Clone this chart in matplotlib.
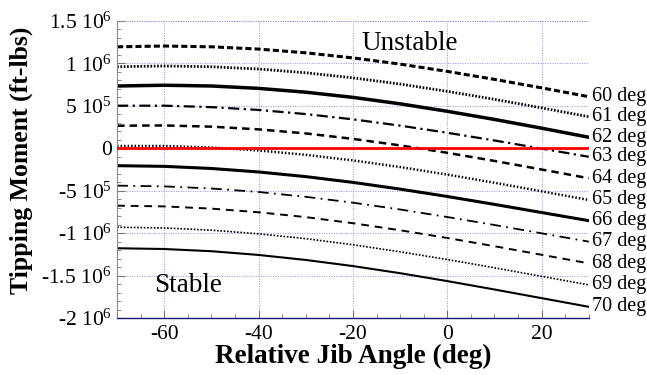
import numpy as np
import matplotlib
matplotlib.use("Agg")
import matplotlib.pyplot as plt
from matplotlib.ticker import MultipleLocator

# relative jib angle (deg)
jib_angle = [-70, -60, -50, -40, -30, -20, -10, 0, 10, 20, 30]

# tipping moment, in units of 1e6 ft-lbs, one list per boom angle
moment_60 = [1.196, 1.205, 1.196, 1.169, 1.125, 1.065, 0.992, 0.906, 0.812, 0.712, 0.608]
moment_61 = [0.961, 0.970, 0.961, 0.934, 0.890, 0.830, 0.757, 0.671, 0.577, 0.476, 0.372]
moment_62 = [0.734, 0.743, 0.734, 0.706, 0.661, 0.600, 0.524, 0.436, 0.340, 0.237, 0.130]
moment_63 = [0.502, 0.502, 0.485, 0.452, 0.403, 0.341, 0.267, 0.183, 0.092, -0.004, -0.100]
moment_64 = [0.266, 0.269, 0.255, 0.223, 0.175, 0.111, 0.034, -0.053, -0.149, -0.250, -0.353]
moment_65 = [0.027, 0.027, 0.009, -0.026, -0.077, -0.143, -0.221, -0.310, -0.406, -0.507, -0.609]
moment_66 = [-0.205, -0.213, -0.238, -0.279, -0.334, -0.402, -0.481, -0.568, -0.661, -0.757, -0.853]
moment_67 = [-0.440, -0.449, -0.474, -0.515, -0.572, -0.641, -0.721, -0.810, -0.904, -1.002, -1.100]
moment_68 = [-0.676, -0.685, -0.711, -0.754, -0.811, -0.883, -0.966, -1.057, -1.154, -1.255, -1.356]
moment_69 = [-0.930, -0.939, -0.965, -1.008, -1.065, -1.137, -1.220, -1.311, -1.408, -1.509, -1.610]
moment_70 = [-1.178, -1.187, -1.213, -1.257, -1.316, -1.388, -1.472, -1.565, -1.664, -1.766, -1.868]

curve_labels = ["60 deg", "61 deg", "62 deg", "63 deg", "64 deg", "65 deg",
                "66 deg", "67 deg", "68 deg", "69 deg", "70 deg"]

x_ticks = [-60, -40, -20, 0, 20]
y_ticks = [1.5e6, 1e6, 5e5, 0, -5e5, -1e6, -1.5e6, -2e6]
y_tick_labels = ["1.5 10$^{6}$", "1 10$^{6}$", "5 10$^{5}$", "0", "-5 10$^{5}$",
                 "-1 10$^{6}$", "-1.5 10$^{6}$", "-2 10$^{6}$"]

plt.rcParams["font.family"] = ["Liberation Serif", "DejaVu Serif"]
plt.rcParams["mathtext.fontset"] = "custom"
plt.rcParams["mathtext.rm"] = "Liberation Serif"
plt.rcParams["mathtext.it"] = "Liberation Serif:italic"
plt.rcParams["mathtext.bf"] = "Liberation Serif:bold"
plt.rcParams["axes.unicode_minus"] = False

curves = [moment_60, moment_61, moment_62, moment_63, moment_64, moment_65,
          moment_66, moment_67, moment_68, moment_69, moment_70]

styles = [
    ((0, (2, 1)), 2.2),
    ((0, (0.6, 0.6)), 2.0),
    ("-", 2.5),
    ((0, (5, 2, 1, 2)), 1.6),
    ((0, (3, 2)), 1.8),
    ((0, (0.6, 0.8)), 1.8),
    ("-", 2.2),
    ((0, (6, 3, 1, 3)), 1.3),
    ((0, (4, 3)), 1.4),
    ((0, (1, 1)), 1.2),
    ("-", 1.5),
]

fig = plt.figure(figsize=(6.47, 3.75), dpi=100)
ax = fig.add_axes([0.181, 0.152, 0.729, 0.792])

x = np.array(jib_angle)
for values, label, (ls, lw) in zip(curves, curve_labels, styles):
    y = np.array(values) * 1e6
    ax.plot(x, y, color="black", linestyle=ls, linewidth=lw)
    ax.annotate(label, xy=(x[-1], y[-1]), xytext=(2, 0), textcoords="offset points",
                ha="left", va="center", fontsize=14.5, annotation_clip=False)

ax.axhline(0, color="red", linewidth=2, zorder=5)

ax.set_xlim(-70, 30)
ax.set_ylim(-2e6, 1.5e6)
ax.set_xticks(x_ticks)
ax.set_yticks(y_ticks)
ax.set_yticklabels(y_tick_labels)
ax.xaxis.set_minor_locator(MultipleLocator(5))
ax.yaxis.set_minor_locator(MultipleLocator(1e5))

ax.tick_params(which="both", direction="in", colors="#777777", labelcolor="black",
               labelsize=15.5, top=False, right=False)
ax.tick_params(which="major", length=6)
ax.tick_params(which="minor", length=3)
ax.tick_params(axis="y", pad=4)
ax.tick_params(axis="x", pad=5)

ax.grid(True, which="major", color="#8f8fe8", linestyle=(0, (1, 1.5)), linewidth=0.7)
ax.spines["top"].set_visible(False)
ax.spines["right"].set_visible(False)
ax.spines["left"].set_color("#888888")
ax.spines["left"].set_linewidth(0.8)
ax.spines["bottom"].set_color("#1a1a80")
ax.spines["bottom"].set_linewidth(1.0)
# top edge shown as a dotted grid line
ax.axhline(1.5e6, color="#8f8fe8", linestyle=(0, (1, 1.5)), linewidth=0.7, clip_on=False)

ax.text(-18.3, 1.24e6, "Unstable", fontsize=19.5, ha="left", va="center")
ax.text(-62.1, -1.62e6, "Stable", fontsize=19.5, ha="left", va="center")

ax.set_xlabel("Relative Jib Angle (deg)", fontsize=19.5, fontweight="bold", labelpad=0)
ax.set_ylabel("Tipping Moment (ft-lbs)", fontsize=18.5, fontweight="bold")
ax.yaxis.set_label_coords(-0.178, 0.53)

fig.savefig("out.png", dpi=100)
print("Saved plot: out.png")
